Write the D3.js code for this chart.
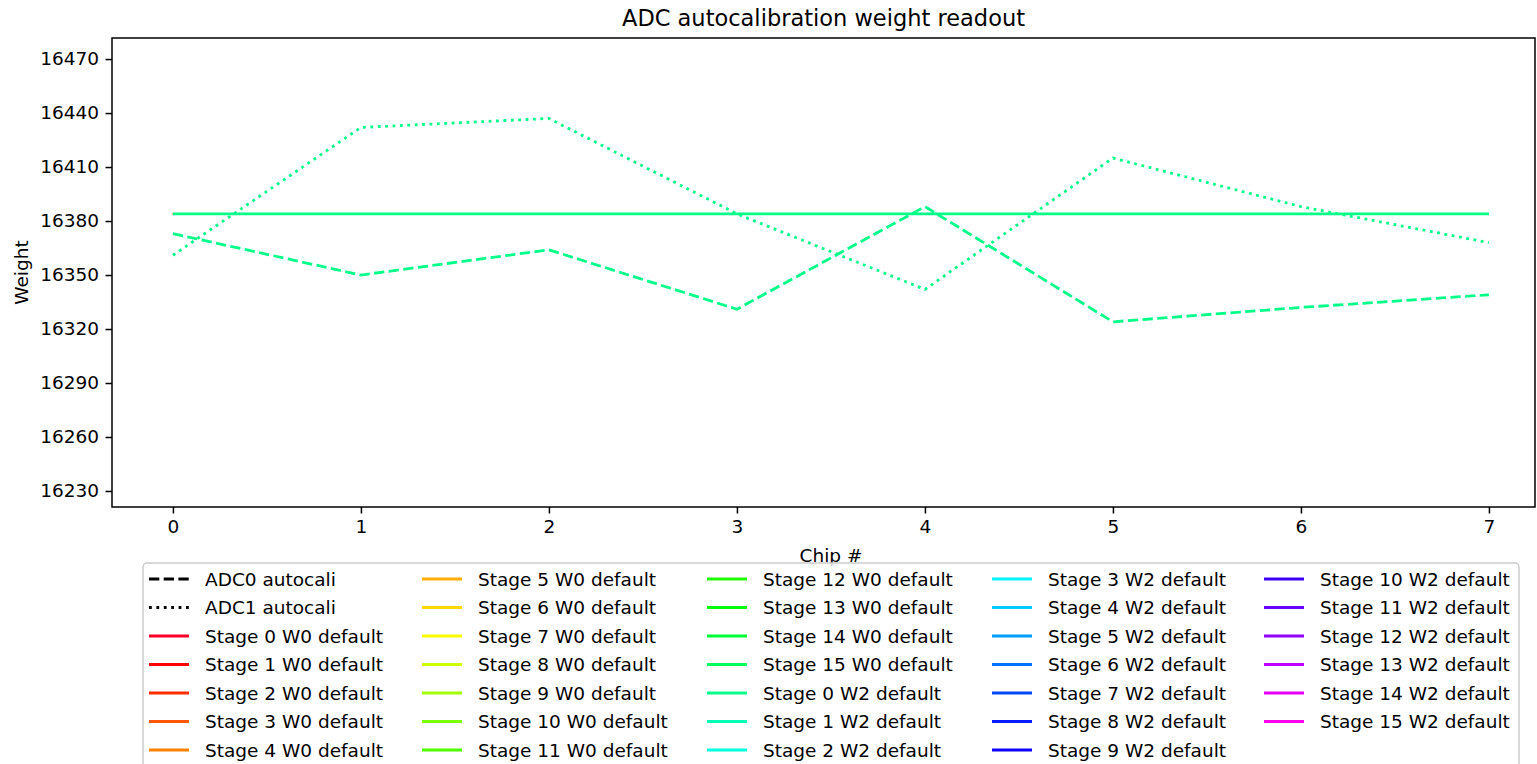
<!DOCTYPE html>
<html>
<head>
<meta charset="utf-8">
<script src="https://cdn.jsdelivr.net/npm/d3@7"></script>
<style>
  body{margin:0;background:#fff;}
  svg text{font-family:"DejaVu Sans",sans-serif;fill:#000;}
</style>
</head>
<body>
<div id="chart"></div>
<script>
/* ADC autocalibration weight readout: default weights per stage vs. autocal results per chip */
var chips=[0,1,2,3,4,5,6,7];
var adc0Autocali=[16373,16350,16364,16331,16388,16324,16332,16339];
var adc1Autocali=[16361,16432,16437,16384,16342,16415,16388,16368];
var w0Default=[16384,16384,16384,16384,16384,16384,16384,16384,16384,16384,16384,16384,16384,16384,16384,16384];
var stages=d3.range(16);
var yTicks=[16230,16260,16290,16320,16350,16380,16410,16440,16470];
var xDomain=[-0.324,7.245], yDomain=[16221.1,16481.7];

/* matplotlib gist_rainbow */
var gr={r:[[0,1],[0.03,1],[0.215,1],[0.4,0],[0.586,0],[0.77,0],[0.954,1],[1,1]],
        g:[[0,0],[0.03,0],[0.215,1],[0.4,1],[0.586,1],[0.77,0],[0.954,0],[1,0]],
        b:[[0,0.16],[0.03,0],[0.215,0],[0.4,0],[0.586,1],[0.77,1],[0.954,1],[1,0.75]]};
function seg(p,t){for(var i=1;i<p.length;i++){if(t<=p[i][0]){var a=p[i-1],b=p[i];return a[1]+(b[1]-a[1])*(t-a[0])/(b[0]-a[0]);}}return p[p.length-1][1];}
function gistRainbow(t){return d3.rgb(255*seg(gr.r,t),255*seg(gr.g,t),255*seg(gr.b,t)).formatHex();}
function stageColor(k){return gistRainbow(k/32);}   // k = 0..31 (W0 stages then W2 stages)

var W=1537,H=764, L=112,R=1535,T=38,B=507;
var svg=d3.select("#chart").append("svg").attr("width",W).attr("height",H);
var x=d3.scaleLinear().domain(xDomain).range([L,R]);
var y=d3.scaleLinear().domain(yDomain).range([B,T]);

svg.append("clipPath").attr("id","clip").append("rect").attr("x",L).attr("y",T).attr("width",R-L).attr("height",B-T);
var plot=svg.append("g").attr("clip-path","url(#clip)");
var line=d3.line().x(function(d){return x(d[0]);}).y(function(d){return y(d[1]);});

/* traces: the default lines overlap, only the top one shows */
var traceColor=stageColor(16);
stages.forEach(function(s){
    plot.append("path").attr("d",line(chips.map(function(c){return [c,w0Default[s]];})))
        .attr("fill","none").attr("stroke",s===15?traceColor:stageColor(s)).attr("stroke-width",s===15?2.8:1);
});
plot.append("path").attr("d",line(chips.map(function(c,i){return [c,adc0Autocali[i]];})))
    .attr("fill","none").attr("stroke",traceColor).attr("stroke-width",2.8).attr("stroke-dasharray","10.3,4.4");
plot.append("path").attr("d",line(chips.map(function(c,i){return [c,adc1Autocali[i]];})))
    .attr("fill","none").attr("stroke",traceColor).attr("stroke-width",2.8).attr("stroke-dasharray","2.8,4.6");

/* axes */
var fs="18.5px";
var gx=svg.append("g").attr("transform","translate(0,"+B+")").call(d3.axisBottom(x).tickValues(chips).tickSize(6.5).tickPadding(6.5).tickFormat(d3.format("d")));
var gy=svg.append("g").attr("transform","translate("+L+",0)").call(d3.axisLeft(y).tickValues(yTicks).tickSize(6.5).tickPadding(6.5).tickFormat(d3.format("d")));
[gx,gy].forEach(function(g){
    g.select(".domain").remove();
    g.selectAll(".tick line").attr("stroke","#000").attr("stroke-width",1.5);
    g.selectAll(".tick text").style("font-size",fs).attr("font-family","DejaVu Sans");
});
svg.append("rect").attr("x",L).attr("y",T).attr("width",R-L).attr("height",B-T)
    .attr("fill","none").attr("stroke","#000").attr("stroke-width",1.5);

svg.append("text").attr("x",(L+R)/2).attr("y",26).attr("text-anchor","middle").style("font-size","22.5px")
    .text("ADC autocalibration weight readout");
svg.append("text").attr("x",831).attr("y",562).attr("text-anchor","middle").style("font-size",fs).text("Chip #");
svg.append("text").attr("transform","translate(28,"+((T+B)/2)+") rotate(-90)").attr("text-anchor","middle")
    .style("font-size",fs).text("Weight");

/* legend */
var items=[{label:"ADC0 autocali",color:"#000",dash:"10.3,4.4"},{label:"ADC1 autocali",color:"#000",dash:"2.8,4.6"}];
stages.forEach(function(s){items.push({label:"Stage "+s+" W0 default",color:stageColor(s),dash:null});});
stages.forEach(function(s){items.push({label:"Stage "+s+" W2 default",color:stageColor(16+s),dash:null});});

var lg=svg.append("g");
lg.append("rect").attr("x",143).attr("y",563).attr("width",1376).attr("height",230).attr("rx",4)
    .attr("fill","#fff").attr("fill-opacity",0.8).attr("stroke","#ccc").attr("stroke-width",1.5);
var colX=[149,422,707,992,1264], row0=579, rowH=28.5, rows=7;
items.forEach(function(it,i){
    var c=Math.floor(i/rows), r=i%rows, cy=row0+r*rowH, cx=colX[c];
    lg.append("line").attr("x1",cx).attr("x2",cx+40).attr("y1",cy).attr("y2",cy)
        .attr("stroke",it.color).attr("stroke-width",2.8).attr("stroke-dasharray",it.dash);
    lg.append("text").attr("x",cx+56).attr("y",cy).attr("dy","0.36em").style("font-size",fs).text(it.label);
});
</script>
</body>
</html>
